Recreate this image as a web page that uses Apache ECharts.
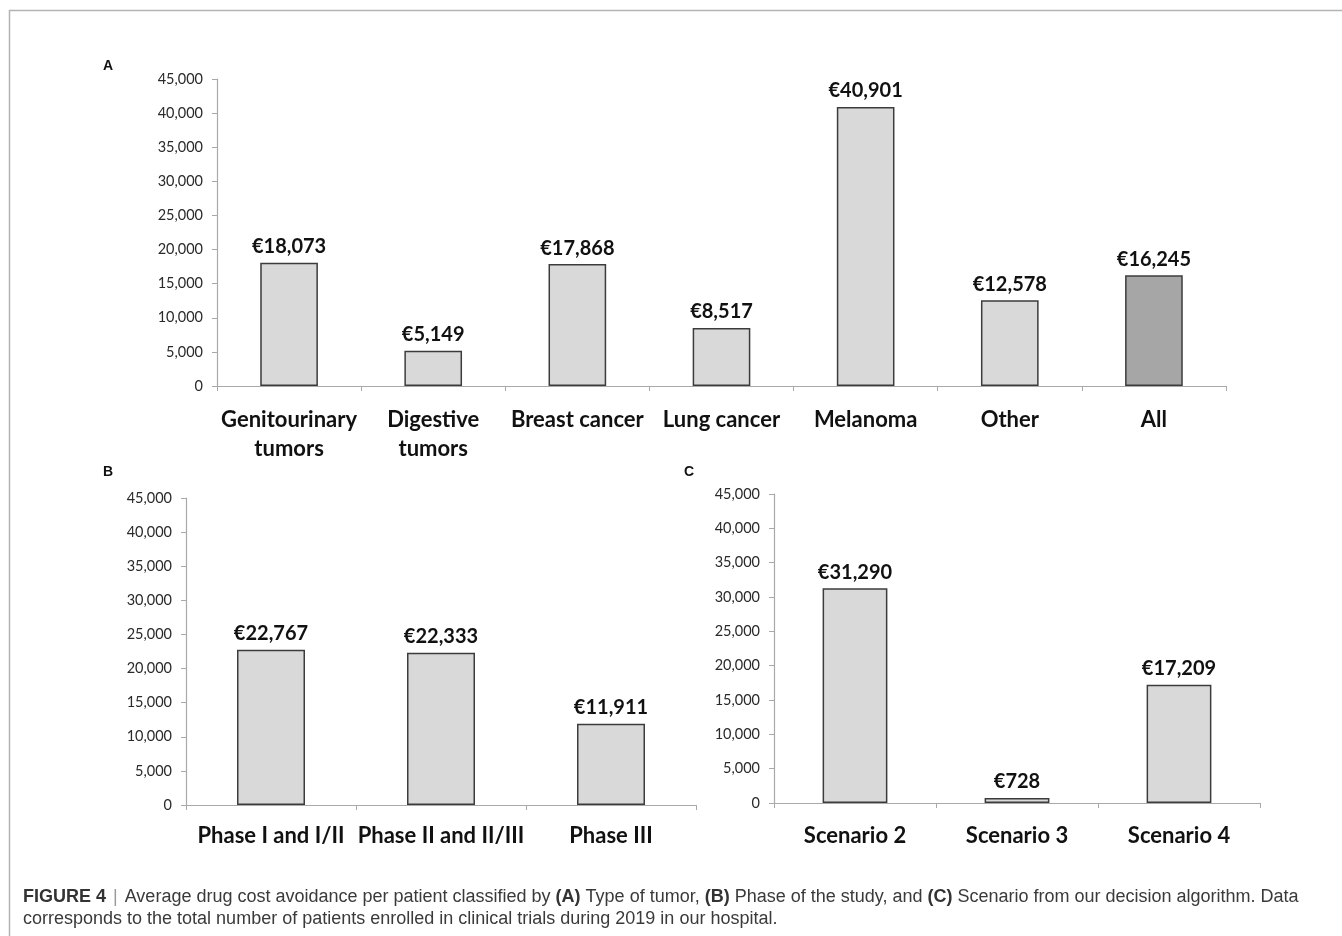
<!DOCTYPE html>
<html>
<head>
<meta charset="utf-8">
<script src="https://cdn.jsdelivr.net/npm/echarts@6/dist/echarts.min.js"></script>
<style>
  html, body { margin: 0; padding: 0; background: #fff; }
  #chart { width: 1342px; height: 936px; }
</style>
</head>
<body>
<div id="chart"></div>
<script>
// Panel A: average cost avoidance by tumour type
const tumorCategories = ['Genitourinary\ntumors', 'Digestive\ntumors', 'Breast cancer', 'Lung cancer', 'Melanoma', 'Other', 'All'];
const tumorValues = [18073, 5149, 17868, 8517, 40901, 12578, 16245];

// Panel B: by study phase
const phaseCategories = ['Phase I and I/II', 'Phase II and II/III', 'Phase III'];
const phaseValues = [22767, 22333, 11911];

// Panel C: by decision-algorithm scenario
const scenarioCategories = ['Scenario 2', 'Scenario 3', 'Scenario 4'];
const scenarioValues = [31290, 728, 17209];

// Shared value axis ticks
const yMin = 0, yMax = 45000, yStep = 5000;

const FONT = 'Lato, "Open Sans", sans-serif';
const CAPTION_FONT = '"Liberation Sans", Arial, sans-serif';
const AXIS_GRAY = '#a9a9a9';
const BAR_FILL = '#d9d9d9';
const BAR_FILL_TOTAL = '#a6a6a6';
const BAR_EDGE = '#3c3c3c';

const fmt = v => Number(v).toLocaleString('en-US');

function yAxis(gridIndex) {
  return {
    type: 'value', gridIndex, min: yMin, max: yMax, interval: yStep,
    axisLine: { show: true, lineStyle: { color: AXIS_GRAY, width: 1.2 } },
    axisTick: { show: true, length: 5, lineStyle: { color: AXIS_GRAY } },
    splitLine: { show: false },
    axisLabel: { margin: 14, color: '#2a2a2a', fontFamily: FONT, fontSize: 14.5, formatter: fmt }
  };
}

function xAxis(gridIndex, data, margin) {
  return {
    type: 'category', gridIndex, data,
    axisLine: { show: true, lineStyle: { color: AXIS_GRAY, width: 1.2 } },
    axisTick: { show: true, length: 5, lineStyle: { color: AXIS_GRAY } },
    axisLabel: {
      interval: 0, margin, color: '#111', fontFamily: FONT, fontWeight: 'bold',
      fontSize: 22, lineHeight: 29
    }
  };
}

function barSeries(idx, values, fillFn) {
  return {
    type: 'bar', xAxisIndex: idx, yAxisIndex: idx, barWidth: '40%',
    data: values.map((v, i) => ({ value: v, itemStyle: { color: fillFn(i) } })),
    itemStyle: { borderColor: BAR_EDGE, borderWidth: 1.5 },
    label: {
      show: true, position: 'top', distance: 6, color: '#111',
      fontFamily: FONT, fontWeight: 'bold', fontSize: 20,
      formatter: p => '€' + fmt(p.value)
    },
    emphasis: { disabled: true }
  };
}

const chart = echarts.init(document.getElementById('chart'), null, { renderer: 'canvas' });

const letterStyle = t => ({ text: t, font: 'bold 14px "Liberation Sans", Arial, sans-serif', fill: '#111', align: 'center', verticalAlign: 'middle' });

chart.setOption({
  animation: false,
  backgroundColor: '#fff',
  grid: [
    { left: 217, top: 79, width: 1009, height: 307 },
    { left: 186, top: 498, width: 510, height: 307 },
    { left: 774, top: 494, width: 486, height: 309 }
  ],
  xAxis: [
    xAxis(0, tumorCategories, 19),
    xAxis(1, phaseCategories, 16),
    xAxis(2, scenarioCategories, 18)
  ],
  yAxis: [yAxis(0), yAxis(1), yAxis(2)],
  series: [
    barSeries(0, tumorValues, i => i === tumorValues.length - 1 ? BAR_FILL_TOTAL : BAR_FILL),
    barSeries(1, phaseValues, () => BAR_FILL),
    barSeries(2, scenarioValues, () => BAR_FILL)
  ],
  graphic: [
    // frame around the figure
    { type: 'line', shape: { x1: 9, y1: 10.5, x2: 1342, y2: 10.5 }, style: { stroke: '#b3b3b3', lineWidth: 1.5 } },
    { type: 'line', shape: { x1: 9.5, y1: 10, x2: 9.5, y2: 936 }, style: { stroke: '#b3b3b3', lineWidth: 1.5 } },
    // panel letters
    { type: 'text', x: 108, y: 66, style: letterStyle('A') },
    { type: 'text', x: 108, y: 472, style: letterStyle('B') },
    { type: 'text', x: 689, y: 472, style: letterStyle('C') },
    // caption
    {
      type: 'text', x: 23, y: 897,
      style: {
        text: '{b|FIGURE 4} {sep||} Average drug cost avoidance per patient classified by {b|(A)} Type of tumor, {b|(B)} Phase of the study, and {b|(C)} Scenario from our decision algorithm. Data',
        font: '18px ' + CAPTION_FONT, fill: '#3a3a3a', verticalAlign: 'middle',
        rich: {
          b: { fontWeight: 'bold', fontSize: 18, fontFamily: CAPTION_FONT, fill: '#333' },
          sep: { fontSize: 18, fontFamily: CAPTION_FONT, fill: '#999', padding: [0, 2, 0, 2] }
        }
      }
    },
    {
      type: 'text', x: 23, y: 919,
      style: {
        text: 'corresponds to the total number of patients enrolled in clinical trials during 2019 in our hospital.',
        font: '18px ' + CAPTION_FONT, fill: '#3a3a3a', verticalAlign: 'middle'
      }
    }
  ]
});
</script>
</body>
</html>
